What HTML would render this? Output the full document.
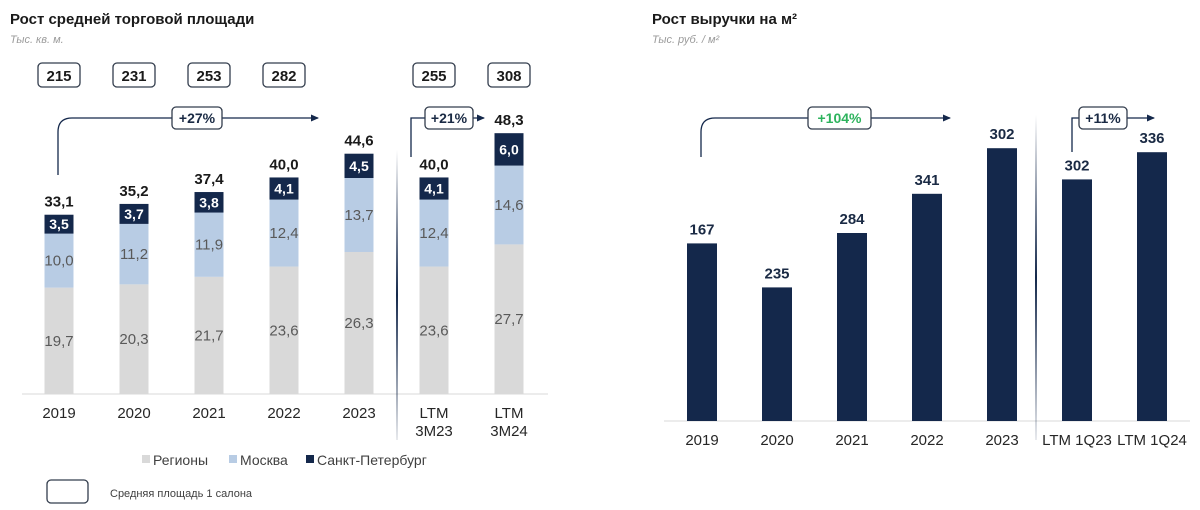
<!DOCTYPE html>
<html><head><meta charset="utf-8">
<style>
body{margin:0;background:#fff;width:1200px;height:505px;overflow:hidden;font-family:"Liberation Sans",Arial,sans-serif;}
svg text{font-family:"Liberation Sans",Arial,sans-serif;}
</style></head>
<body>
<svg id="c" width="1200" height="505" viewBox="0 0 1200 505" xmlns="http://www.w3.org/2000/svg">
<defs>
<linearGradient id="dv" x1="0" y1="0" x2="0" y2="1">
<stop offset="0" stop-color="#14284b" stop-opacity="0"/>
<stop offset="0.5" stop-color="#14284b" stop-opacity="1"/>
<stop offset="1" stop-color="#14284b" stop-opacity="0.1"/>
</linearGradient>
<marker id="ah" markerWidth="8" markerHeight="8" refX="7" refY="4" orient="auto" markerUnits="userSpaceOnUse"><path d="M0,0.5 L8,4 L0,7.5 z" fill="#14284b"/></marker>
</defs>
<text x="10" y="24" font-size="15" font-weight="bold" fill="#1a1a1a">Рост средней торговой площади</text>
<text x="10" y="43" font-size="11" font-style="italic" fill="#9a9a9a">Тыс. кв. м.</text>
<text x="652" y="24" font-size="15" font-weight="bold" fill="#1a1a1a">Рост выручки на м²</text>
<text x="652" y="43" font-size="11" font-style="italic" fill="#9a9a9a">Тыс. руб. / м²</text>
<g id="left"></g>
<g id="right"></g>
</svg>
<script>
// Left chart data
const leftCats = ["2019","2020","2021","2022","2023","LTM|3M23","LTM|3M24"];
const regions = [19.7,20.3,21.7,23.6,26.3,23.6,27.7];
const moscow = [10.0,11.2,11.9,12.4,13.7,12.4,14.6];
const spb = [3.5,3.7,3.8,4.1,4.5,4.1,6.0];
const totals = ["33,1","35,2","37,4","40,0","44,6","40,0","48,3"];
const avgStore = [215,231,253,282,255,308].length ? [215,231,253,282,255,308] : [];
// Right chart data
const rightCats = ["2019","2020","2021","2022","2023","LTM 1Q23","LTM 1Q24"];
const revValues = [222,167,235,284,341,302,336];
const revLabels = ["167","235","284","341","302","302","336"];

const NS="http://www.w3.org/2000/svg";
function mk(parent,tag,attrs,text){const e=document.createElementNS(NS,tag);for(const k in attrs)e.setAttribute(k,attrs[k]);if(text!==undefined)e.textContent=text;parent.appendChild(e);return e;}
const fmt=v=>v.toFixed(1).replace('.',',');

// LEFT
const L=document.getElementById('left');
const lBase=394, lK=5.4, lX0=59, lStep=75, lW=29;
const lx=i=>lX0+i*lStep;
const ly=v=>lBase-v*lK;
const lineL=mk(L,'line',{x1:22,y1:lBase,x2:548,y2:lBase,stroke:'#d8d8d8','stroke-width':1});


leftCats.forEach((c,i)=>{
  const cx=lx(i);
  const segs=[[regions[i],'#d9d9d9','regions'],[moscow[i],'#b8cce4','moscow'],[spb[i],'#14284b','spb']];
  let acc=0;
  segs.forEach(([v,col,nm],j)=>{
    const r=mk(L,'rect',{x:cx-lW/2,y:ly(acc+v),width:lW,height:v*lK,fill:col});
    
    
    const mid=ly(acc+v/2)+5;
    const t=mk(L,'text',{x:cx,y:mid,'text-anchor':'middle','font-size':j==2?14:15,'font-weight':j==2?'bold':'normal',fill:j==2?'#fff':'#595959'},fmt(v));
    
    
    acc+=v;
  });
  const tt=mk(L,'text',{x:cx,y:ly(acc)-8,'text-anchor':'middle','font-size':15,'font-weight':'bold',fill:'#1a1a1a'},totals[i]);
  
  
  const parts=c.split('|');
  parts.forEach((p,k)=>{
    const xl=mk(L,'text',{x:cx,y:418+k*18,'text-anchor':'middle','font-size':15,fill:'#262626'},p);
    
    
  });
});
// avg store boxes (5 years + 2 LTM => 7 but 6 values shown: 215,231,253,282 for 2019-2022, 255,308 for LTM)
const boxIdx=[0,1,2,3,5,6];
[215,231,253,282,255,308].forEach((v,k)=>{
  const cx=lx(boxIdx[k]);
  const r=mk(L,'rect',{x:cx-21,y:63,width:42,height:24,rx:4,fill:'#fff',stroke:'#333d4d','stroke-width':1.3});
  
  
  const t=mk(L,'text',{x:cx,y:81,'text-anchor':'middle','font-size':15,'font-weight':'bold',fill:'#1a1a1a'},v);
  
  
});
let dl=mk(L,'rect',{x:396,y:150,width:2,height:290,fill:'url(#dv)'});


let a1=mk(L,'path',{d:'M58,175 L58,132 Q58,118 72,118 L318,118',fill:'none',stroke:'#14284b','stroke-width':1.3,'marker-end':'url(#ah)'});


let b1=mk(L,'rect',{x:172,y:107,width:50,height:22,rx:4,fill:'#fff',stroke:'#333d4d','stroke-width':1.3});


let t1=mk(L,'text',{x:197,y:123,'text-anchor':'middle','font-size':14,'font-weight':'bold',fill:'#1a2a44'},'+27%');


let a2=mk(L,'path',{d:'M411,157 L411,118 L484,118',fill:'none',stroke:'#14284b','stroke-width':1.3,'marker-end':'url(#ah)'});


let b2=mk(L,'rect',{x:425,y:107,width:48,height:22,rx:4,fill:'#fff',stroke:'#333d4d','stroke-width':1.3});


let t2=mk(L,'text',{x:449,y:123,'text-anchor':'middle','font-size':14,'font-weight':'bold',fill:'#1a2a44'},'+21%');


// legend
[['#d9d9d9','Регионы',142],['#b8cce4','Москва',229],['#14284b','Санкт-Петербург',306]].forEach(([col,lab,x],k)=>{
  const s=mk(L,'rect',{x:x,y:455,width:8,height:8,fill:col});
  
  
  const t=mk(L,'text',{x:x+11,y:465,'font-size':14,fill:'#404040'},lab);
  
  
});
let lb=mk(L,'rect',{x:47,y:480,width:41,height:23,rx:4,fill:'#fff',stroke:'#333d4d','stroke-width':1.3});


let lt=mk(L,'text',{x:110,y:497,'font-size':11,fill:'#404040'},'Средняя площадь 1 салона');



// RIGHT
const R=document.getElementById('right');
const rBase=421, rK=0.8, rX0=702, rStep=75, rW=30;
const rx=i=>rX0+i*rStep;
const ry=v=>rBase-v*rK;
let ax=mk(R,'line',{x1:664,y1:rBase,x2:1190,y2:rBase,stroke:'#d8d8d8','stroke-width':1});


rightCats.forEach((c,i)=>{
  const cx=rx(i);
  const r=mk(R,'rect',{x:cx-rW/2,y:ry(revValues[i]),width:rW,height:revValues[i]*rK,fill:'#14284b'});
  
  
  const t=mk(R,'text',{x:cx,y:ry(revValues[i])-9,'text-anchor':'middle','font-size':15,'font-weight':'bold',fill:'#1a2a44'},revLabels[i]);
  
  
  const xl=mk(R,'text',{x:cx,y:445,'text-anchor':'middle','font-size':15,fill:'#262626'},c);
  
  
});
let dr=mk(R,'rect',{x:1035,y:115,width:2,height:325,fill:'url(#dv)'});


let a3=mk(R,'path',{d:'M701,157 L701,132 Q701,118 715,118 L950,118',fill:'none',stroke:'#14284b','stroke-width':1.3,'marker-end':'url(#ah)'});


let b3=mk(R,'rect',{x:808,y:107,width:63,height:22,rx:4,fill:'#fff',stroke:'#333d4d','stroke-width':1.3});


let t3=mk(R,'text',{x:839.5,y:123,'text-anchor':'middle','font-size':14,'font-weight':'bold',fill:'#2db35d'},'+104%');


let a4=mk(R,'path',{d:'M1072,152 L1072,118 L1154,118',fill:'none',stroke:'#14284b','stroke-width':1.3,'marker-end':'url(#ah)'});


let b4=mk(R,'rect',{x:1079,y:107,width:48,height:22,rx:4,fill:'#fff',stroke:'#333d4d','stroke-width':1.3});


let t4=mk(R,'text',{x:1103,y:123,'text-anchor':'middle','font-size':14,'font-weight':'bold',fill:'#1a2a44'},'+11%');


</script>
</body></html>
